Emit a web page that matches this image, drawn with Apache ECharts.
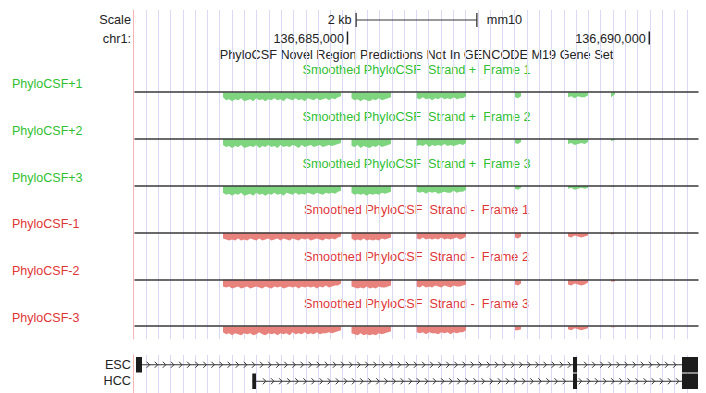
<!DOCTYPE html>
<html>
<head>
<meta charset="utf-8">
<script src="https://cdn.jsdelivr.net/npm/echarts@6/dist/echarts.min.js"></script>
<style>
  html, body { margin: 0; padding: 0; background: #fff; }
  #chart { width: 706px; height: 393px; }
</style>
</head>
<body>
<div id="chart"></div>
<script>
// ---- Browser window: mm10 chr1 ----
const assembly = 'mm10';
const chrom = 'chr1';
const viewStart = 136681480;
const viewEnd = 136690807;
const rulerTicks = [136685000, 136690000];
const scaleBarBp = 2000;
const trackSetTitle = 'PhyloCSF Novel Region Predictions Not In GENCODE M19 Gene Set';

// ---- Scored regions (same intervals for every frame track) ----
const blockStart = [136682938, 136685067, 136686147, 136687775, 136688653, 136689366];
const blockEnd   = [136684893, 136685721, 136686964, 136687875, 136688985, 136689432];

// ---- Track labels ----
const trackNames = ['PhyloCSF+1', 'PhyloCSF+2', 'PhyloCSF+3', 'PhyloCSF-1', 'PhyloCSF-2', 'PhyloCSF-3'];
const trackTitles = [
  'Smoothed PhyloCSF  Strand +  Frame 1',
  'Smoothed PhyloCSF  Strand +  Frame 2',
  'Smoothed PhyloCSF  Strand +  Frame 3',
  'Smoothed PhyloCSF  Strand -  Frame 1',
  'Smoothed PhyloCSF  Strand -  Frame 2',
  'Smoothed PhyloCSF  Strand -  Frame 3'
];

// ---- Smoothed scores per region (magnitude, plotted downward from the track line) ----
const plusFrame1 = [
  [5,8,7,9,7,8,6,9,8,7,9,6,8,7,9,7,8,6,8,7,9,6,7,8,6,8,7,9,6,7,8,6,8,7,6,8,6,7,5,4],
  [6,8,7,9,7,8,9,7,8,6,8,7,6,5],
  [6,7,5,7,6,8,6,7,5,7,6,7,5,7,6,6,4],
  [5,6,4],
  [5,4,6,4,5,5,3],
  [5,2]
];
const plusFrame2 = [
  [6,8,7,9,7,8,6,9,8,7,8,6,9,7,8,6,8,7,9,6,8,7,8,6,7,9,6,8,7,6,8,7,6,8,7,6,7,6,5,4],
  [7,8,6,9,7,8,9,7,8,6,8,7,6,5],
  [7,6,7,5,8,6,7,6,7,5,7,6,7,6,5,6,4],
  [4,5,3],
  [5,4,6,5,4,5,3],
  [2,1]
];
const plusFrame3 = [
  [7,9,8,10,8,9,7,10,9,8,10,7,9,8,10,8,9,7,9,8,10,7,8,9,7,9,8,9,7,8,9,7,8,9,7,8,7,8,6,5],
  [7,9,8,9,8,10,8,9,8,9,7,8,7,6],
  [6,7,6,8,6,7,6,8,7,6,7,7,5,7,6,6,4],
  [3,4,2],
  [3,2,4,3,2,3,2],
  [1,1]
];
const minusFrame1 = [
  [6,7,8,7,8,6,8,7,8,6,7,8,6,8,7,6,8,7,6,8,6,7,8,6,7,8,6,7,6,8,7,6,7,8,6,7,6,7,5,4],
  [6,8,7,8,6,8,7,8,7,8,6,7,6,5],
  [6,7,5,7,6,7,6,7,5,7,6,7,6,5,7,6,4],
  [5,6,4],
  [4,5,3,4,5,4,3],
  [2,1]
];
const minusFrame2 = [
  [7,8,7,9,8,7,9,8,7,9,8,7,8,9,7,8,9,7,8,7,9,8,7,8,7,9,7,8,7,8,7,9,7,8,6,8,7,6,6,4],
  [7,8,9,8,9,7,9,8,9,7,8,8,7,6],
  [7,8,6,8,7,8,6,7,8,6,7,8,6,7,7,6,5],
  [5,6,4],
  [5,6,4,5,6,5,3],
  [2,2]
];
const minusFrame3 = [
  [6,8,7,9,7,8,9,7,8,7,9,8,6,8,9,7,8,7,9,7,8,7,9,6,8,7,8,6,8,7,8,6,8,7,7,6,7,6,5,4],
  [7,8,9,7,9,8,9,8,9,7,8,7,6,5],
  [6,7,6,8,6,7,7,8,6,7,6,8,6,7,6,6,4],
  [4,4,3],
  [3,4,2,3,4,3,2],
  [1,1]
];
const trackScores = [plusFrame1, plusFrame2, plusFrame3, minusFrame1, minusFrame2, minusFrame3];

// ---- Transcripts ----
const transcripts = ['ESC', 'HCC'];
const txStart = [136681497, 136683423];
const txEnd   = [136690807, 136690807];
const exonStarts = [[136681497, 136688736, 136690542], [136683423, 136688736, 136690542]];
const exonEnds   = [[136681596, 136688803, 136690807], [136683485, 136688803, 136690807]];

// ---- Layout & styles ----
const FONT = 'Liberation Sans, Arial, Helvetica, sans-serif';
const FS = 12.7;
const GREEN_TEXT = '#2fbf2f';
const RED_TEXT = '#df3434';
const GREEN_FILL = '#7fd47f';
const RED_FILL = '#e8827d';
const INK = '#222';
const PLOT_L = 135, PLOT_R = 8;
const TRACK_TOP0 = 92.2, TRACK_STEP = 46.8, TRACK_H = 12;
const GUIDE_L = 133.7, GUIDE_STEP = 12.29;
const CENTER_X = 416.5;

const chart = echarts.init(document.getElementById('chart'), null, { renderer: 'svg' });

const grid = [], xAxis = [], yAxis = [], series = [], graphic = [];

function txt(x, y, text, color, align, size) {
  return {
    type: 'text', x: x, y: y, silent: true,
    style: {
      text: text, fill: color, fontSize: size || FS, fontFamily: FONT,
      align: align, textAlign: align, verticalAlign: 'middle', textVerticalAlign: 'middle'
    }
  };
}

// Guideline panels (upper tracks and transcript area)
const guideMax = (706 - GUIDE_L - 8.3) / GUIDE_STEP;
[[10, 329], [355, 38]].forEach(([top, h]) => {
  const gi = grid.length;
  grid.push({ left: GUIDE_L, right: 8.3, top: top, height: h });
  xAxis.push({
    gridIndex: gi, type: 'value', min: 0, max: guideMax, interval: 1,
    axisLine: { show: false }, axisTick: { show: false }, axisLabel: { show: false },
    splitLine: { show: true, showMinLine: false, showMaxLine: false, lineStyle: { color: '#dadaf7', width: 1 } }
  });
  yAxis.push({
    gridIndex: gi, type: 'value', min: 0, max: 1,
    axisLine: { show: true, lineStyle: { color: '#f6b4b4', width: 1 } },
    axisTick: { show: false }, axisLabel: { show: false }, splitLine: { show: false }
  });
});

// Ruler panel
const rulerGrid = grid.length;
grid.push({ left: PLOT_L, right: PLOT_R, top: 10, height: 40 });
xAxis.push({ gridIndex: rulerGrid, type: 'value', min: viewStart, max: viewEnd, show: false });
yAxis.push({ gridIndex: rulerGrid, type: 'value', min: 0, max: 1, show: false });
const mid = (viewStart + viewEnd) / 2;
series.push({
  type: 'custom', xAxisIndex: rulerGrid, yAxisIndex: rulerGrid, silent: true, animation: false,
  data: [[mid - scaleBarBp / 2, mid + scaleBarBp / 2]],
  renderItem(params, api) {
    const x0 = api.coord([api.value(0), 0])[0];
    const x1 = api.coord([api.value(1), 0])[0];
    const y = 20;
    return {
      type: 'group', children: [
        { type: 'line', shape: { x1: x0, y1: y, x2: x1, y2: y }, style: { stroke: '#333', lineWidth: 1 } },
        { type: 'line', shape: { x1: x0, y1: y - 7, x2: x0, y2: y + 7 }, style: { stroke: '#333', lineWidth: 1.3 } },
        { type: 'line', shape: { x1: x1, y1: y - 7, x2: x1, y2: y + 7 }, style: { stroke: '#333', lineWidth: 1.3 } },
        txt(x0 - 4.5, y, (scaleBarBp / 1000) + ' kb', INK, 'right'),
        txt(x1 + 10, y, assembly, INK, 'left')
      ]
    };
  }
});
series.push({
  type: 'custom', xAxisIndex: rulerGrid, yAxisIndex: rulerGrid, silent: true, animation: false,
  data: rulerTicks.map(v => [v]),
  renderItem(params, api) {
    const v = api.value(0);
    const x = api.coord([v, 0])[0];
    return {
      type: 'group', children: [
        { type: 'line', shape: { x1: x, y1: 31.5, x2: x, y2: 44.5 }, style: { stroke: '#222', lineWidth: 1.5 } },
        txt(x - 3.5, 38.5, v.toLocaleString('en-US'), INK, 'right')
      ]
    };
  }
});

// Frame tracks
trackScores.forEach((blocks, k) => {
  const gi = grid.length;
  const top = TRACK_TOP0 + k * TRACK_STEP;
  grid.push({ left: PLOT_L, right: PLOT_R, top: top, height: TRACK_H });
  xAxis.push({
    gridIndex: gi, type: 'value', min: viewStart, max: viewEnd, position: 'top', z: 5,
    axisLine: { show: true, onZero: false, lineStyle: { color: '#3a3a3a', width: 1.5 } },
    axisTick: { show: false }, axisLabel: { show: false }, splitLine: { show: false }
  });
  yAxis.push({ gridIndex: gi, type: 'value', min: 0, max: TRACK_H, inverse: true, show: false });
  const pts = [];
  blocks.forEach((vals, b) => {
    const s = blockStart[b], e = blockEnd[b];
    vals.forEach((v, i) => pts.push([s + (e - s) * i / (vals.length - 1), v]));
    pts.push([e + 1, null]);
  });
  const plus = k < 3;
  series.push({
    type: 'line', xAxisIndex: gi, yAxisIndex: gi, data: pts, symbol: 'none', silent: true,
    animation: false, connectNulls: false,
    lineStyle: { width: 0 },
    areaStyle: { color: plus ? GREEN_FILL : RED_FILL, opacity: 1 }
  });
  graphic.push(txt(CENTER_X, top - 22.2, trackTitles[k], plus ? GREEN_TEXT : RED_TEXT, 'center'));
  graphic.push(txt(12, top - 8.2, trackNames[k], plus ? GREEN_TEXT : RED_TEXT, 'left', 12.5));
});

// Transcript track
const geneGrid = grid.length;
grid.push({ left: PLOT_L, right: PLOT_R, top: 356.5, height: 33 });
xAxis.push({ gridIndex: geneGrid, type: 'value', min: viewStart, max: viewEnd, show: false });
yAxis.push({
  gridIndex: geneGrid, type: 'category', data: transcripts, inverse: true,
  axisLine: { show: false }, axisTick: { show: false }, splitLine: { show: false },
  axisLabel: { show: true, interval: 0, margin: 4, color: INK, fontSize: FS, fontFamily: FONT }
});
series.push({
  type: 'custom', xAxisIndex: geneGrid, yAxisIndex: geneGrid, silent: true, animation: false,
  encode: { x: [1, 2], y: 0 },
  data: transcripts.map((t, i) => [i, txStart[i], txEnd[i]]),
  renderItem(params, api) {
    const row = api.value(0);
    const c0 = api.coord([api.value(1), row]);
    const c1 = api.coord([api.value(2), row]);
    const y = c0[1];
    const h = api.size([0, 1])[1] - 1;
    const ex = exonStarts[row].map((st, i) => [api.coord([st, row])[0], api.coord([exonEnds[row][i], row])[0]]);
    const kids = [
      { type: 'line', shape: { x1: c0[0], y1: y, x2: c1[0], y2: y }, style: { stroke: '#333', lineWidth: 1 } }
    ];
    for (let x = c0[0] + 4; x < c1[0] - 2; x += 8.1) {
      if (ex.some(([a, b]) => x > a - 3 && x < b + 3)) continue;
      kids.push({
        type: 'polyline',
        shape: { points: [[x - 1.5, y - 3], [x + 1.5, y], [x - 1.5, y + 3]] },
        style: { stroke: '#333', fill: null, lineWidth: 1 }
      });
    }
    ex.forEach(([a, b]) => kids.push({
      type: 'rect', shape: { x: a, y: y - h / 2, width: Math.max(b - a, 1), height: h },
      style: { fill: '#1c1c1c' }
    }));
    return { type: 'group', children: kids };
  }
});

// Header labels
graphic.push(txt(131, 20, 'Scale', INK, 'right'));
graphic.push(txt(131, 38.5, chrom + ':', INK, 'right'));
graphic.push(txt(CENTER_X, 54.7, trackSetTitle, INK, 'center'));

chart.setOption({
  animation: false,
  backgroundColor: '#fff',
  grid, xAxis, yAxis, series, graphic
});
</script>
</body>
</html>
